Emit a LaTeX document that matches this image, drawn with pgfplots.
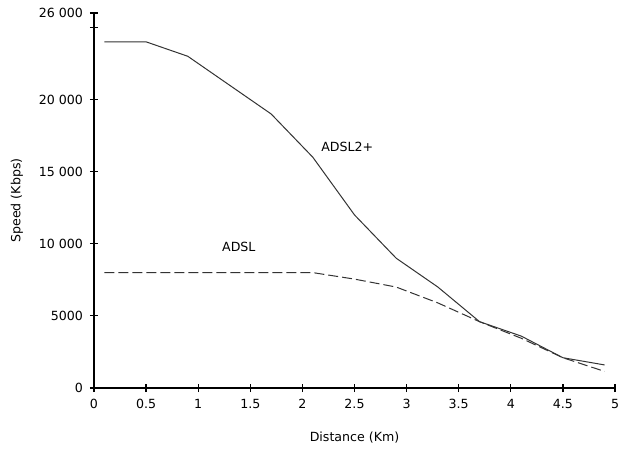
\documentclass[border=0pt]{standalone}
\usepackage{pgfplots}
\pgfplotsset{compat=1.18}
\usepackage{fontspec}
\setmainfont{DejaVu Sans}
\begin{document}
\begin{tikzpicture}
\begin{axis}[
  scale only axis,
  width=260.5pt, height=187.5pt,
  xmin=0, xmax=5, ymin=0, ymax=26000,
  axis x line=bottom, axis y line=left,
  axis line style={-, line width=0.6pt},
  tick align=center, major tick length=4pt,
  tick style={line width=0.6pt, black},
  scaled y ticks=false, scaled x ticks=false,
  xtick={0,0.5,1,1.5,2,2.5,3,3.5,4,4.5,5},
  xticklabels={0,0.5,1,1.5,2,2.5,3,3.5,4,4.5,5},
  ytick={0,5000,10000,15000,20000,25000,26000},
  yticklabels={0,5000,10 000,15 000,20 000,,26 000},
  /pgf/number format/assume math mode=true,
  font=\fontsize{6.3}{7.5}\selectfont,
  ticklabel style={font=\fontsize{6.3}{7.5}\selectfont},
  xlabel={Distance (Km)}, ylabel={Speed (Kbps)},
  xlabel style={at={(axis description cs:0.5,-0.131)}, anchor=center},
  ylabel style={at={(axis description cs:-0.148,0.5)}, anchor=center},
  clip=false,
]
\addplot[line width=0.5pt, color=black!80] coordinates {
 (0.1,24000) (0.5,24000) (0.9,23000) (1.3,21000) (1.7,19000) (2.1,16000) (2.5,12000) (2.9,9000) (3.3,7000) (3.7,4600) (4.1,3600) (4.5,2100) (4.9,1600)
};
\addplot[line width=0.5pt, color=black!80, dash pattern=on 5pt off 2pt] coordinates {
 (0.1,8000) (0.5,8000) (0.9,8000) (1.3,8000) (1.7,8000) (2.1,8000) (2.5,7550) (2.9,7000) (3.3,5900) (3.7,4600) (4.1,3450) (4.5,2100) (4.9,1150)
};
\node[anchor=center] at (axis cs:2.43,16750) {ADSL2+};
\node[anchor=center] at (axis cs:1.39,9760) {ADSL};
\end{axis}
\pgfresetboundingbox
\path[use as bounding box] (-47pt,-31pt) rectangle (262.5pt,194pt);
\end{tikzpicture}
\end{document}
